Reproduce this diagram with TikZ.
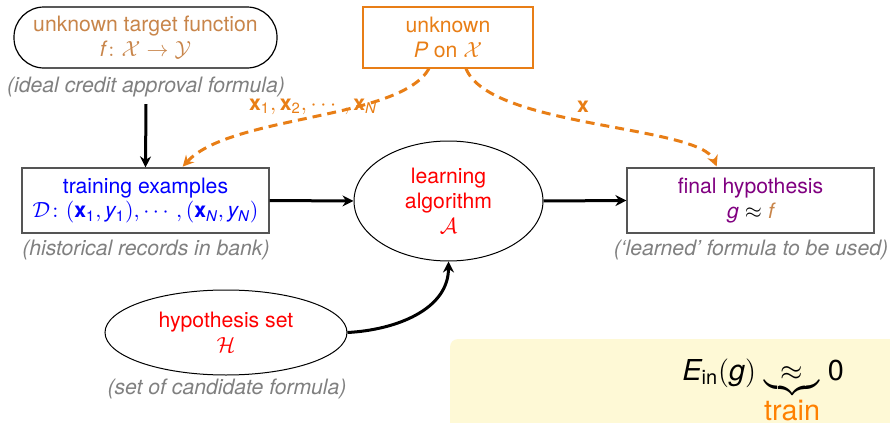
\documentclass[tikz,border=0pt]{standalone}
\usepackage{amsmath}
\usepackage{fontspec}
\setmainfont{TeX Gyre Heros}
\usetikzlibrary{shapes.geometric,arrows.meta}

\definecolor{targetbrown}{RGB}{200,133,74}
\definecolor{sampleorange}{RGB}{232,126,22}
\definecolor{trainorange}{RGB}{255,128,0}
\definecolor{capgray}{RGB}{128,128,128}
\definecolor{boxgray}{RGB}{85,85,85}
\definecolor{hypopurple}{RGB}{128,0,128}
\definecolor{notebg}{RGB}{254,249,214}

% sans digits and letters inside formulas
\newcommand{\dg}[1]{\mathrm{#1}}
\newcommand{\vi}[1]{\mathit{#1}}

\begin{document}
\begin{tikzpicture}[
    x=0.5pt, y=-0.5pt,
    font=\fontsize{10.6}{12.4}\selectfont,
    tip/.style={-{Stealth[length=5.5pt,width=5.5pt,inset=1.8pt]}},
    flow/.style={tip, line width=1.5pt},
    sample/.style={draw=sampleorange, line width=1.5pt, dash pattern=on 4.5pt off 3pt,
                   -{Stealth[length=5.5pt,width=5.5pt,inset=1.8pt,sep=0.5pt]}},
    databox/.style={draw=boxgray, line width=0.6pt, minimum width=123.5pt,
                    minimum height=32.5pt, align=center, inner sep=0pt},
    oval/.style={ellipse, draw, line width=0.5pt, align=center, inner sep=0pt},
    note/.style={text=capgray, font=\fontsize{10.6}{12.4}\selectfont\itshape},
    samplelabel/.style={text=sampleorange, inner sep=0pt}
  ]
  \useasboundingbox (0,0) rectangle (890,423);

  % unknown target and input distribution
  \node[draw, line width=0.6pt, rounded corners=15pt, minimum width=131.5pt,
        minimum height=30.5pt, align=center, inner sep=0pt, text=targetbrown]
        (target) at (145.5,37.5)
        {unknown target function\\ $\vi{f}\colon \mathcal{X}\to\mathcal{Y}$};
  \node[note] (targetnote) at (146,87) {(ideal credit approval formula)};

  \node[draw=sampleorange, line width=0.6pt, minimum width=85pt, minimum height=30.5pt,
        align=center, inner sep=0pt, text=sampleorange]
        (dist) at (448,37.5) {unknown\\ $\vi{P}$ on $\mathcal{X}$};

  % data, algorithm, result
  \node[databox, text=blue] (data) at (145.5,200.5)
        {training examples\\ $\mathcal{D}\colon (\mathbf{x}_{\dg{1}},\vi{y}_{\dg{1}}),\cdots,(\mathbf{x}_{\vi{N}},\vi{y}_{\vi{N}})$};
  \node[note] (datanote) at (146,250) {(historical records in bank)};

  \node[oval, minimum width=94.5pt, minimum height=60pt, text=red]
        (alg) at (448.5,201) {learning\\ algorithm\\ $\mathcal{A}$};

  \node[databox] (final) at (750.5,200.5)
        {\textcolor{hypopurple}{final hypothesis}\\
         $\textcolor{hypopurple}{\vi{g}}\approx\textcolor{targetbrown}{\vi{f}}$};
  \node[note] (finalnote) at (751,250) {(`learned' formula to be used)};

  \node[oval, minimum width=121pt, minimum height=42.5pt, text=red]
        (hset) at (226,332.5) {hypothesis set\\ $\mathcal{H}$};
  \node[note] (hsetnote) at (227,389) {(set of candidate formula)};

  % solid connectors
  \draw[flow] (targetnote.south) -- (data.north);
  \draw[flow] (data.east) -- (alg.west);
  \draw[flow] (alg.east) -- (final.west);
  \draw[flow] (hset.east) to[out=3,in=-90] (alg.south);

  % sampled inputs
  \draw[sample] ([xshift=-9.5pt]dist.south) .. controls (400,120) and (230,115)
        .. ([xshift=18.25pt]data.north);
  \draw[sample] ([xshift=9pt]dist.south) .. controls (490,128) and (700,125)
        .. ([xshift=-16.75pt]final.north);
  \node[samplelabel] (xs) at (313,106.5)
        {$\mathbf{x}_{\dg{1}},\mathbf{x}_{\dg{2}},\cdots,\mathbf{x}_{\vi{N}}$};
  \node[samplelabel] (xone) at (583,107) {$\mathbf{x}$};

  % in-sample error note
  \begin{scope}
    \clip (0,0) rectangle (890,423);
    \fill[notebg, rounded corners=4pt] (450,339) rectangle (910,450);
  \end{scope}
  \node[anchor=base west, inner sep=0pt, font=\fontsize{14.4}{16}\selectfont] (ein) at (682,380)
        {$\vi{E}_{\mathrm{in}}(\vi{g})\mathrel{\underbrace{\makebox[27.5pt]{$\approx$}}_{\mbox{\textcolor{trainorange}{train}}}}\dg{0}$};
\end{tikzpicture}
\end{document}
